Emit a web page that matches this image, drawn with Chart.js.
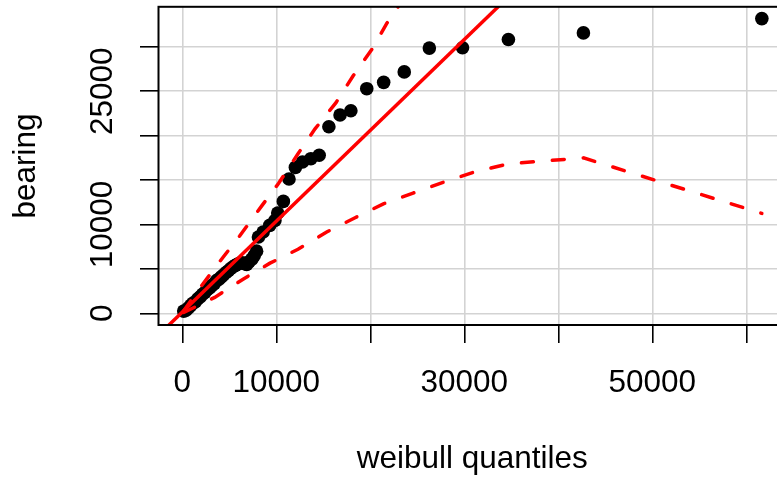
<!DOCTYPE html>
<html><head><meta charset="utf-8">
<script src="https://cdn.jsdelivr.net/npm/chart.js@4/dist/chart.umd.min.js"></script>
<style>html,body{margin:0;padding:0;overflow:hidden;background:#fff;width:777px;height:478px}canvas{display:block}</style>
</head><body>
<canvas id="c" width="800" height="478"></canvas>
<script>
const xTicks = [0, 10000, 20000, 30000, 40000, 50000, 60000];
const xTickLabels = ['0', '10000', '', '30000', '', '50000', ''];
const yTicks = [0, 5000, 10000, 15000, 20000, 25000, 30000];
const yTickLabels = ['0', '', '10000', '', '', '25000', ''];

const quantiles = [150, 400, 650, 900, 1150, 1400, 1650, 1900, 2150, 2400, 2650, 2900, 3150, 3400, 3650, 3900, 4150, 4400, 4650, 4900, 5150, 5400, 5650, 5900, 6150, 6400, 6650, 6850, 7100, 7400, 7650, 7900,
  8100, 8600, 9300, 9850, 10150, 10750, 11350, 12030, 12780, 13680, 14560, 15590, 16780, 17930, 19620, 21420, 23610, 26280, 29810, 34690, 42670, 61650];
const bearing = [250, 350, 600, 900, 1150, 1300, 1650, 1850, 2150, 2350, 2700, 2850, 3150, 3350, 3700, 3850, 4100, 4350, 4600, 4800, 5050, 5250, 5400, 5550, 5650, 5700, 5600, 5500, 5800, 6100, 6500, 7000,
  8600, 9150, 9900, 10450, 11300, 12600, 15130, 16430, 17030, 17410, 17790, 21010, 22330, 22810, 25290, 26000, 27180, 29860, 29890, 30830, 31570, 33180];

const fitX = [-3000, 40000];
const fitY = [-2930, 41060];

const upperX = [150, 1900, 4360, 6100, 8450, 10230, 12310, 14120, 16350, 18160, 20180, 21780, 23600];
const upperY = [300, 2900, 6350, 8700, 12100, 14610, 17970, 20770, 23720, 26710, 29740, 32690, 35500];
const lowerX = [150, 3450, 6550, 9330, 12310, 15360, 18380, 21390, 24550, 27740, 30950, 34690, 42670, 61650];
const lowerY = [100, 1800, 3900, 5650, 7210, 9150, 10760, 12330, 13540, 14750, 15870, 16830, 17500, 11250];

const pts = (xs, ys) => xs.map((x, i) => ({x: x, y: ys[i]}));
const FONT = '"Liberation Sans", Arial, Helvetica, sans-serif';

const frame = {
  id: 'frame',
  afterDatasetsDraw(chart) {
    const {ctx, chartArea: a} = chart;
    ctx.save();
    ctx.strokeStyle = '#000';
    ctx.lineWidth = 2;
    ctx.strokeRect(a.left, a.top, a.right - a.left, a.bottom - a.top);
    ctx.restore();
  }
};

new Chart(document.getElementById('c'), {
  type: 'scatter',
  data: {
    datasets: [
      {data: pts(quantiles, bearing), pointRadius: 6.8, pointBackgroundColor: '#000', pointBorderWidth: 0, order: 3},
      {data: pts(fitX, fitY), showLine: true, borderColor: '#ff0000', borderWidth: 3.5, pointRadius: 0, clip: 0, order: 1},
      {data: pts(upperX, upperY), showLine: true, borderColor: '#ff0000', borderWidth: 3.5, borderDash: [12, 19], borderCapStyle: 'round', pointRadius: 0, clip: 0, order: 2},
      {data: pts(lowerX, lowerY), showLine: true, borderColor: '#ff0000', borderWidth: 3.5, borderDash: [12, 19], borderCapStyle: 'round', pointRadius: 0, clip: 0, order: 2}
    ]
  },
  options: {
    responsive: false,
    animation: false,
    events: [],
    layout: {padding: {left: 0, top: 5.5, right: 14, bottom: 0}},
    plugins: {legend: {display: false}, tooltip: {enabled: false}},
    scales: {
      x: {
        type: 'linear', min: -2532, max: 64220,
        afterBuildTicks: s => { s.ticks = xTicks.map(v => ({value: v})); },
        afterFit: s => { s.height = 153; s.paddingLeft = 0; s.paddingRight = 0; },
        ticks: {autoSkip: false, maxRotation: 0, minRotation: 0, color: '#000', padding: 21,
          font: {family: FONT, size: 31.5},
          callback: v => xTickLabels[xTicks.indexOf(v)]},
        grid: {color: '#d3d3d3', lineWidth: 1.6, tickColor: '#000', tickLength: 18, tickWidth: 1.6, drawTicks: true},
        border: {display: false},
        title: {display: true, text: 'weibull quantiles', color: '#000', font: {family: FONT, size: 31.5}, padding: {top: 0, bottom: 0}}
      },
      y: {
        type: 'linear', min: -1312, max: 34507,
        afterBuildTicks: s => { s.ticks = yTicks.map(v => ({value: v})); },
        afterFit: s => { s.width = 158.5; s.paddingTop = 0; s.paddingBottom = 0; },
        ticks: {autoSkip: false, minRotation: 90, maxRotation: 90, crossAlign: 'center', color: '#000', padding: -6.8,
          font: {family: FONT, size: 31.5},
          callback: v => yTickLabels[yTicks.indexOf(v)]},
        grid: {color: '#d3d3d3', lineWidth: 1.6, tickColor: '#000', tickLength: 18.5, tickWidth: 1.6, drawTicks: true},
        border: {display: false},
        title: {display: true, text: 'bearing', color: '#000', font: {family: FONT, size: 31.5}, padding: {top: 7, bottom: 0}}
      }
    }
  },
  plugins: [frame]
});
</script>
</body></html>
